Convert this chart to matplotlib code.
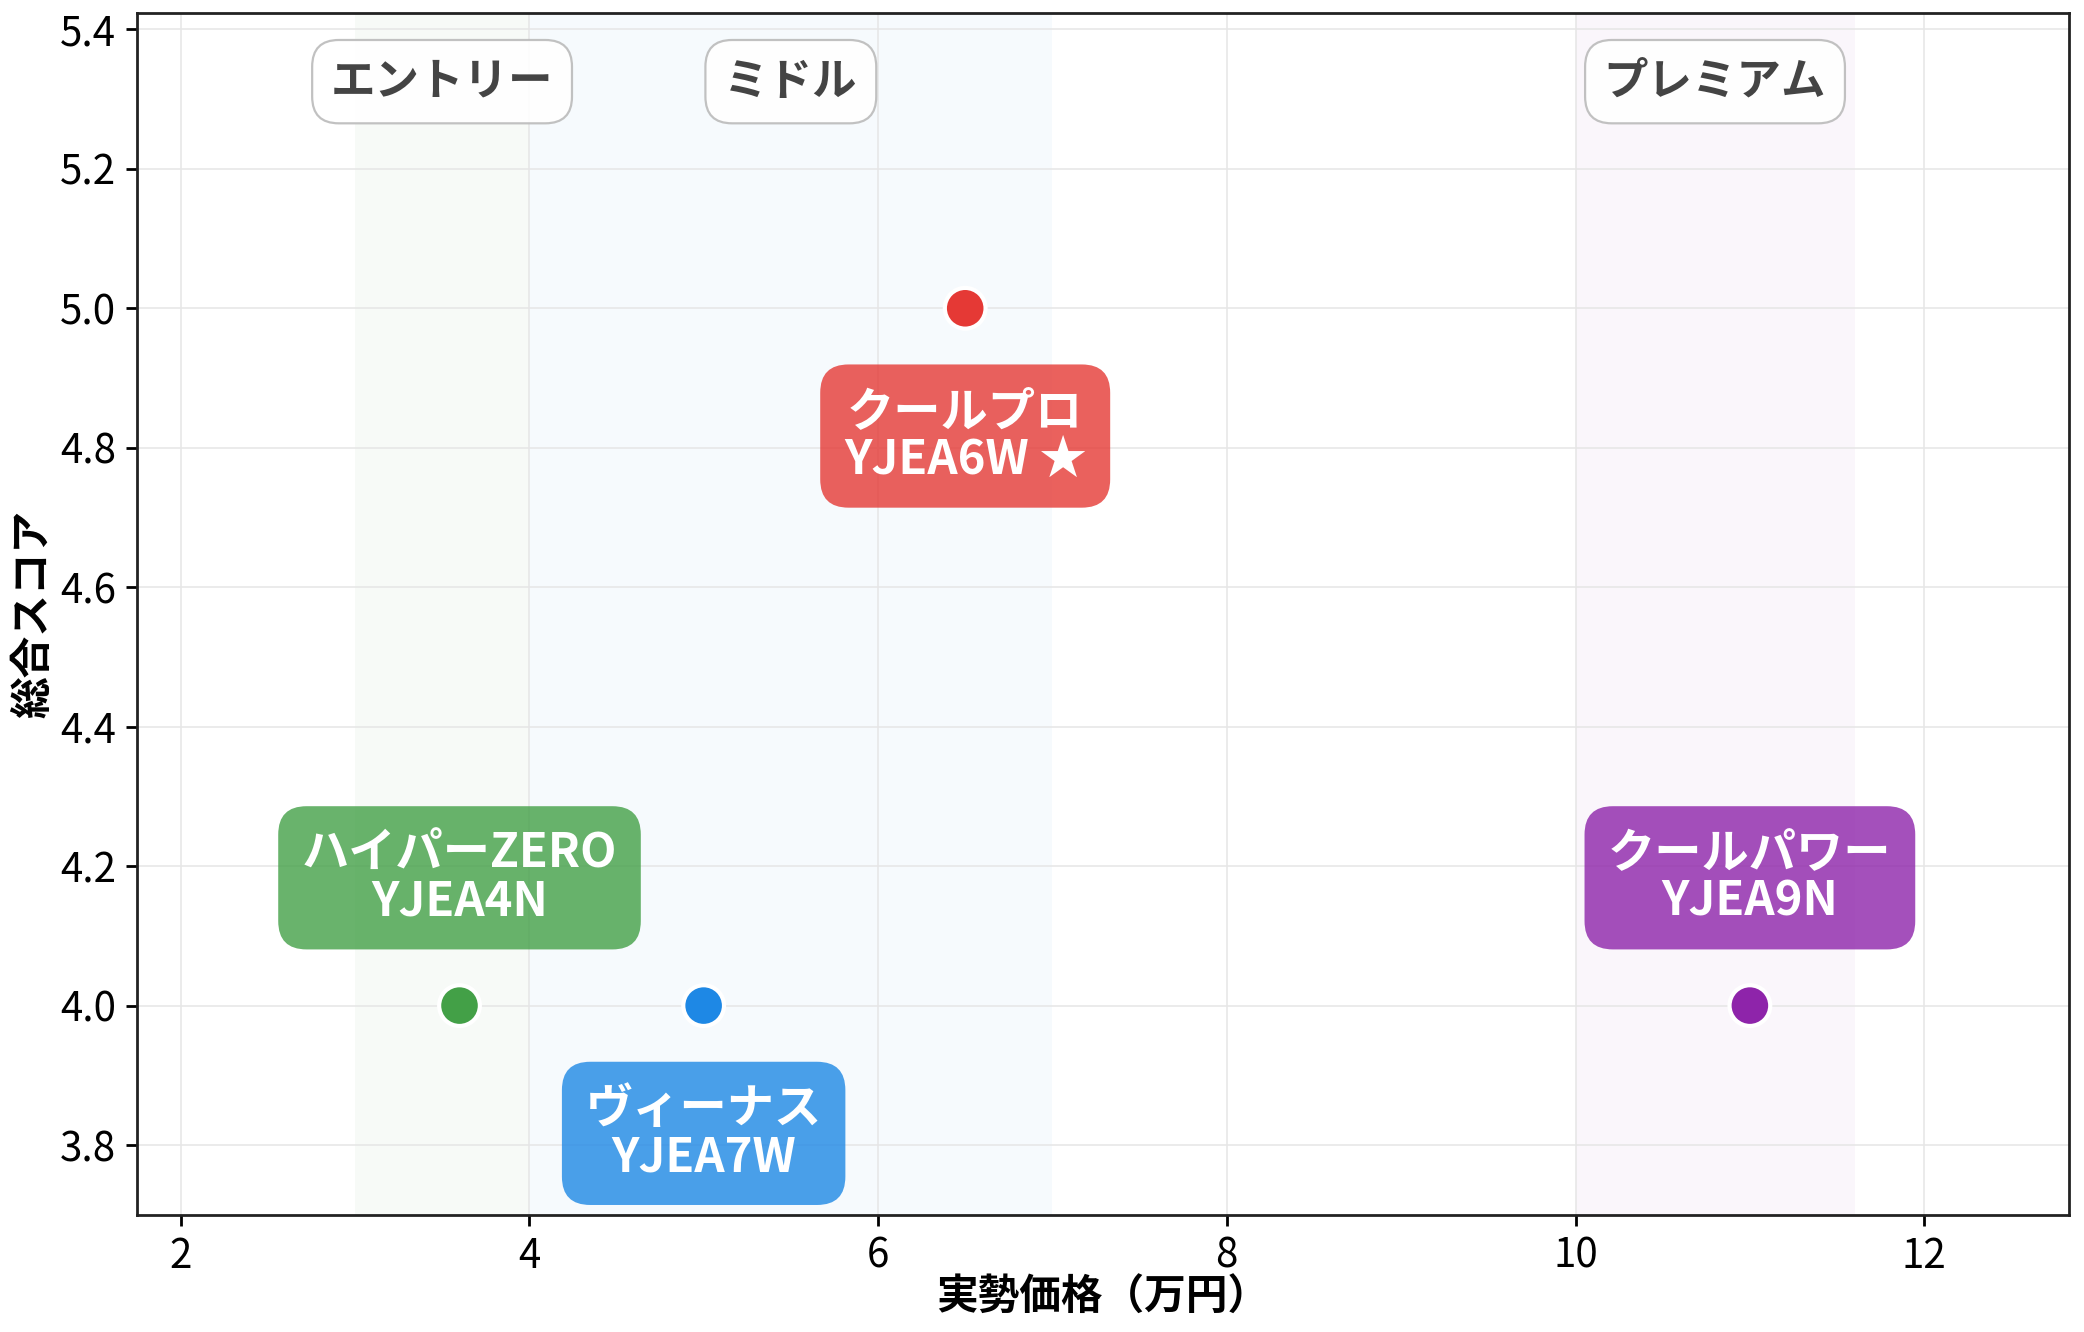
import numpy as np
import matplotlib
matplotlib.use('Agg')
import matplotlib.pyplot as plt

plt.rcParams['font.family'] = ['Noto Sans CJK JP', 'DejaVu Sans']

# products
names = ['ハイパーZERO\nYJEA4N', 'ヴィーナス\nYJEA7W', 'クールプロ\nYJEA6W ★', 'クールパワー\nYJEA9N']
prices = [3.6, 5.0, 6.5, 11.0]
scores = [4.0, 4.0, 5.0, 4.0]
colors = ['#43a047', '#1e88e5', '#e53935', '#8e24aa']
label_side = [1, -1, -1, 1]   # label above (+1) or below (-1) the point

# price bands
band_names = ['エントリー', 'ミドル', 'プレミアム']
band_ranges = [(3.0, 4.0), (4.0, 7.0), (10.0, 11.6)]
band_label_x = [3.5, 5.5, 10.8]
band_colors = ['#388e3c', '#1e88e5', '#8e24aa']

fig = plt.figure(figsize=(10.42, 6.66), dpi=200)
ax = fig.add_axes([0.0657, 0.088, 0.9271, 0.902])

for (lo, hi), c in zip(band_ranges, band_colors):
    ax.axvspan(lo, hi, color=c, alpha=0.04, lw=0, zorder=0)

ax.grid(True, color='#e6e6e6', lw=0.7, alpha=0.8, zorder=1)
ax.set_axisbelow(True)

ax.scatter(prices, scores, s=215, c=colors, edgecolors='white', linewidths=1.5, zorder=4)

for n, x, y, c, side in zip(names, prices, scores, colors, label_side):
    ax.annotate(n, (x, y), xytext=(0, 46 * side), textcoords='offset points',
                ha='center', va='center', fontsize=17, fontweight='bold', color='white',
                linespacing=1.0, zorder=5,
                bbox=dict(boxstyle='round,pad=0.5,rounding_size=0.6', fc=c, ec='none', alpha=0.8))

for bn, bx in zip(band_names, band_label_x):
    ax.text(bx, 5.325, bn, ha='center', va='center',
            fontsize=16, fontweight='bold', color='#444444', zorder=5,
            bbox=dict(boxstyle='round,pad=0.42,rounding_size=0.6', fc='white', ec='#bbbbbb', lw=0.8, alpha=0.9))

ax.set_xlim(1.75, 12.83)
ax.set_ylim(3.7, 5.423)
ax.set_xticks([2, 4, 6, 8, 10, 12])
ax.set_yticks([3.8, 4.0, 4.2, 4.4, 4.6, 4.8, 5.0, 5.2, 5.4])
ax.tick_params(labelsize=14.5, length=4, width=1)
for sp in ax.spines.values():
    sp.set_color('#222222')
    sp.set_linewidth(1.0)

ax.set_xlabel('実勢価格（万円）', fontsize=15, fontweight='bold', labelpad=0)
ax.set_ylabel('総合スコア', fontsize=15, fontweight='bold', labelpad=2)

fig.savefig('out.png', dpi=200)
